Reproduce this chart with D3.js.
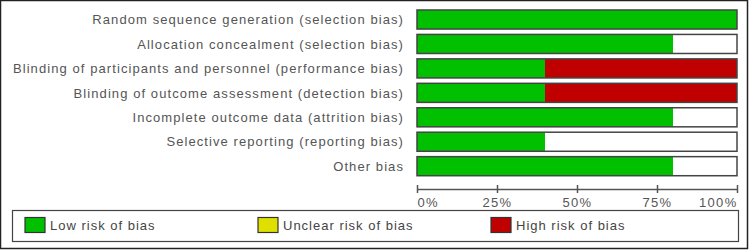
<!DOCTYPE html>
<html>
<head>
<meta charset="utf-8">
<script src="https://cdn.jsdelivr.net/npm/d3@7"></script>
<style>
  body { margin: 0; background: #fff; }
  svg { display: block; font-family: "Liberation Sans", Arial, sans-serif; }
</style>
</head>
<body>
<div id="chart"></div>
<script>
// risk of bias domains
const categories = [
  "Random sequence generation (selection bias)",
  "Allocation concealment (selection bias)",
  "Blinding of participants and personnel (performance bias)",
  "Blinding of outcome assessment (detection bias)",
  "Incomplete outcome data (attrition bias)",
  "Selective reporting (reporting bias)",
  "Other bias"
];
// percent of studies per judgement
const lowRisk = [100, 80, 40, 40, 80, 40, 80];
const unclearRisk = [0, 0, 0, 0, 0, 0, 0];
const highRisk = [0, 0, 60, 60, 0, 0, 0];
const tickValues = [0, 25, 50, 75, 100];
const legendLabels = ["Low risk of bias", "Unclear risk of bias", "High risk of bias"];

const colors = ["#00c000", "#e0e000", "#c00000"];
const width = 750, height = 250;

const svg = d3.select("#chart").append("svg")
  .attr("width", width)
  .attr("height", height);

// outer frame
svg.append("rect")
  .attr("x", 0.5).attr("y", 0.5)
  .attr("width", 747).attr("height", 248)
  .attr("fill", "#fff")
  .attr("stroke", "#222")
  .attr("stroke-width", 1.5);

const x = d3.scaleLinear().domain([0, 100]).range([417, 737]);
const y = d3.scaleBand().domain(categories).range([4.6, 181.1]).padding(0.22);

const rows = categories.map((c, i) => ({
  name: c,
  parts: [
    {x0: 0, x1: lowRisk[i], k: 0},
    {x0: lowRisk[i], x1: lowRisk[i] + unclearRisk[i], k: 1},
    {x0: lowRisk[i] + unclearRisk[i], x1: lowRisk[i] + unclearRisk[i] + highRisk[i], k: 2}
  ]
}));

const row = svg.selectAll("g.row")
  .data(rows)
  .enter().append("g")
  .attr("class", "row")
  .attr("transform", d => `translate(0,${y(d.name)})`);

row.append("rect")
  .attr("x", x(0)).attr("y", 0)
  .attr("width", x(100) - x(0))
  .attr("height", y.bandwidth())
  .attr("fill", "#fff");

row.selectAll("rect.seg")
  .data(d => d.parts.filter(p => p.x1 > p.x0))
  .enter().append("rect")
  .attr("class", "seg")
  .attr("x", d => x(d.x0))
  .attr("y", 0)
  .attr("width", d => x(d.x1) - x(d.x0))
  .attr("height", y.bandwidth())
  .attr("fill", d => colors[d.k]);

row.append("rect")
  .attr("x", x(0)).attr("y", 0)
  .attr("width", x(100) - x(0))
  .attr("height", y.bandwidth())
  .attr("fill", "none")
  .attr("stroke", "#444")
  .attr("stroke-width", 1.5);

row.append("text")
  .attr("x", 404)
  .attr("y", y.bandwidth() / 2)
  .attr("dy", "0.36em")
  .attr("text-anchor", "end")
  .attr("fill", "#555")
  .style("font-size", "13px")
  .style("letter-spacing", "1.08px")
  .text(d => d.name);

// x axis
const axis = svg.append("g")
  .attr("transform", "translate(0,189)")
  .call(d3.axisBottom(x).tickValues(tickValues).tickFormat(d => d + "%").tickSize(4).tickSizeOuter(0));
axis.select(".domain").attr("stroke", "#555").attr("stroke-width", 1.5);
axis.selectAll(".tick line").attr("y1", -4).attr("y2", 4).attr("stroke", "#555").attr("stroke-width", 1.5);
axis.selectAll(".tick text")
  .attr("y", 9)
  .attr("fill", "#555")
  .style("font-size", "13px")
  .style("letter-spacing", "1.3px")
  .style("font-family", "\"Liberation Sans\", Arial, sans-serif")
  .attr("text-anchor", (d, i) => i === 0 ? "start" : (i === tickValues.length - 1 ? "end" : "middle"));

// legend
svg.append("rect")
  .attr("x", 12.5).attr("y", 210.5)
  .attr("width", 726).attr("height", 31)
  .attr("fill", "#fff")
  .attr("stroke", "#444")
  .attr("stroke-width", 1.2);

const legendX = [25, 258, 491];
const lg = svg.selectAll("g.legend")
  .data(legendLabels)
  .enter().append("g")
  .attr("class", "legend")
  .attr("transform", (d, i) => `translate(${legendX[i]},217.5)`);
lg.append("rect")
  .attr("width", 20).attr("height", 15)
  .attr("fill", (d, i) => colors[i])
  .attr("stroke", "#333")
  .attr("stroke-width", 1.2);
lg.append("text")
  .attr("x", 25).attr("y", 7.5)
  .attr("dy", "0.36em")
  .attr("fill", "#444")
  .style("font-size", "13px")
  .style("letter-spacing", "1px")
  .text(d => d);
</script>
</body>
</html>
